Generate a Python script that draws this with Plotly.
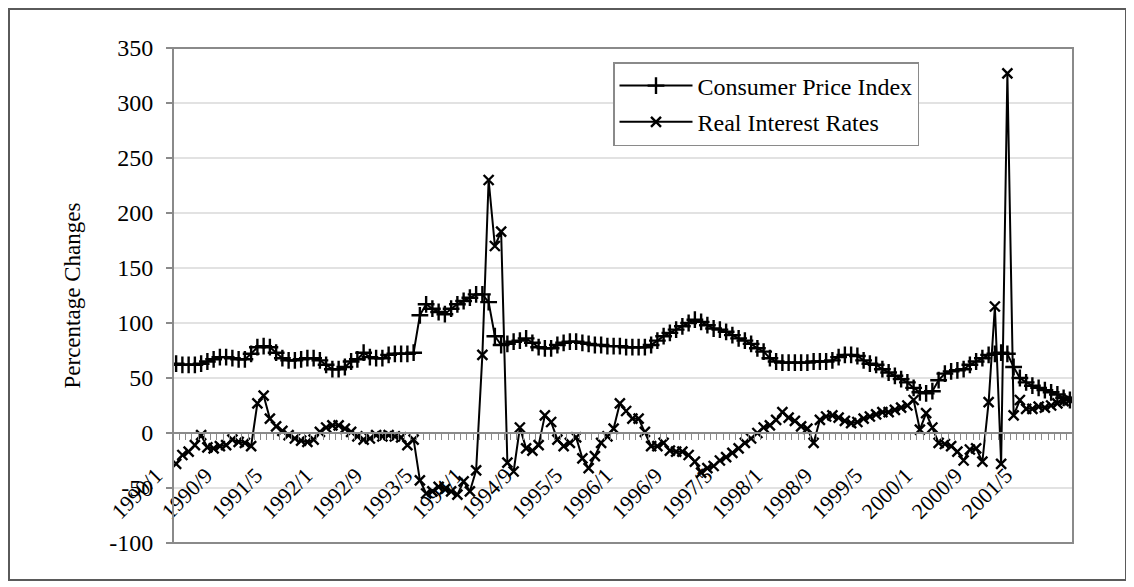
import plotly.graph_objects as go

# ---- data ----
months = [f"{y}/{m}" for y in range(1990, 2002) for m in range(1, 13)]

cpi = [63, 62, 62, 62, 63, 65, 67, 69, 69, 68,
       67, 67, 72, 78, 79, 78, 73, 68, 66, 66,
       67, 68, 68, 66, 62, 58, 58, 60, 65, 67,
       73, 69, 68, 68, 71, 72, 72, 72, 73, 107,
       117, 113, 110, 108, 113, 117, 120, 123, 126, 126,
       119, 88, 80, 81, 83, 84, 86, 82, 78, 77,
       77, 80, 82, 83, 83, 82, 81, 80, 80, 79,
       79, 79, 78, 78, 78, 78, 80, 84, 88, 91,
       94, 97, 100, 103, 101, 98, 95, 94, 92, 89,
       86, 84, 81, 77, 74, 68, 65, 64, 64, 64,
       64, 64, 65, 65, 65, 66, 69, 71, 71, 70,
       66, 63, 62, 58, 55, 52, 49, 46, 41, 37,
       36, 38, 48, 54, 56, 57, 58, 62, 65, 68,
       71, 72, 73, 72, 60, 50, 46, 43, 41, 39,
       37, 35, 32, 30]

rir = [-28, -20, -17, -11, -2, -13, -14, -12, -11, -6,
       -8, -9, -12, 27, 34, 13, 6, 2, -2, -5,
       -7, -8, -6, 1, 5, 7, 7, 4, 1, -3,
       -6, -5, -2, -3, -2, -3, -4, -11, -6, -43,
       -55, -53, -49, -51, -53, -56, -44, -53, -34, 71,
       230, 170, 183, -27, -35, 5, -14, -16, -11, 16,
       10, -6, -12, -9, -4, -23, -32, -21, -9, -3,
       4, 27, 20, 13, 13, 1, -12, -12, -9, -16,
       -17, -17, -20, -26, -36, -32, -30, -25, -22, -18,
       -14, -9, -5, 0, 5, 7, 12, 19, 14, 11,
       6, 4, -9, 12, 15, 16, 14, 11, 9, 10,
       13, 15, 17, 19, 19, 21, 23, 25, 30, 3,
       18, 5, -9, -10, -12, -17, -25, -15, -14, -26,
       28, 115, -28, 327, 16, 30, 22, 22, 24, 23,
       25, 27, 29, 30]

x_tick_labels = ["1990/1", "1990/9", "1991/5", "1992/1", "1992/9", "1993/5",
                 "1994/1", "1994/9", "1995/5", "1996/1", "1996/9", "1997/5",
                 "1998/1", "1998/9", "1999/5", "2000/1", "2000/9", "2001/5"]
y_tick_values = [-100, -50, 0, 50, 100, 150, 200, 250, 300, 350]
y_tick_labels = ["-100", "-50", "0", "50", "100", "150", "200", "250", "300", "350"]

series_names = ["Consumer Price Index", "Real Interest Rates"]

# ---- figure ----
xpos = list(range(len(months)))
tickvals = [months.index(lbl) for lbl in x_tick_labels]
SERIF = "Liberation Serif"

# page body has an 8px margin: figure is laid out in page coords minus 8
PW, PH = 1126, 579
L, T = 165, 40
PLOT_W, PLOT_H = 900, 495

fig = go.Figure()
fig.add_trace(go.Scatter(
    x=xpos, y=cpi, mode="lines+markers", name=series_names[0],
    legendgroup="a",
    line=dict(color="black", width=2),
    marker=dict(symbol="cross-thin", size=12, color="black",
                line=dict(color="black", width=2.4)),
))
fig.add_trace(go.Scatter(
    x=xpos, y=rir, mode="lines+markers", name=series_names[1],
    legendgroup="b",
    line=dict(color="black", width=2),
    marker=dict(symbol="x-thin", size=10, color="black",
                line=dict(color="black", width=2.4)),
))

ymin, ymax = y_tick_values[0], y_tick_values[-1]
zero_pos = (0 - ymin) / (ymax - ymin)

fig.update_layout(
    width=PW, height=PH,
    margin=dict(l=L, r=PW - L - PLOT_W, t=T, b=PH - T - PLOT_H),
    paper_bgcolor="white", plot_bgcolor="white",
    font=dict(family=SERIF, color="black"),
    showlegend=True,
    legend=dict(
        x=(605 - L) / PLOT_W, y=(T + PLOT_H - 54) / PLOT_H,
        xanchor="left", yanchor="top",
        bgcolor="white", bordercolor="#8a8a8a", borderwidth=1.5,
        font=dict(family=SERIF, size=24, color="black"),
        itemwidth=73, tracegroupgap=2,
    ),
    xaxis=dict(
        range=[-0.5, len(months) - 0.5],
        anchor="free", position=zero_pos,
        showgrid=False, zeroline=False,
        showline=True, linecolor="#8a8a8a", linewidth=1.5,
        tickmode="array", tickvals=tickvals, ticktext=x_tick_labels,
        ticks="", tickangle=-45,
        tickfont=dict(family=SERIF, size=22, color="black"),
        ticklabelshift=-20, ticklabelstandoff=20,
        minor=dict(ticks="outside", tick0=-0.5, dtick=1, ticklen=6,
                   tickcolor="#8a8a8a", tickwidth=1, showgrid=False),
    ),
    yaxis=dict(
        range=[ymin, ymax], domain=[0, 1],
        tickmode="array", tickvals=y_tick_values, ticktext=y_tick_labels,
        showgrid=True, gridcolor="#e2e2e2", gridwidth=1.5,
        zeroline=False, showline=False,
        ticks="outside", ticklen=6, tickcolor="#8a8a8a", tickwidth=1.5,
        ticklabelstandoff=8,
        tickfont=dict(family=SERIF, size=24, color="black"),
    ),
)

# plot-area frame and outer frame
fig.add_shape(type="rect", xref="paper", yref="paper", x0=0, x1=1, y0=0, y1=1,
              line=dict(color="#8a8a8a", width=2), layer="above")
fig.add_shape(type="rect", xref="paper", yref="paper",
              x0=(1 - L) / PLOT_W, x1=(1118 - L) / PLOT_W,
              y0=(T + PLOT_H - 572) / PLOT_H, y1=(T + PLOT_H - 1) / PLOT_H,
              line=dict(color="#5a5a5a", width=2), layer="above")

fig.add_annotation(text="Percentage Changes", textangle=-90,
                   xref="paper", yref="paper", x=(64 - L) / PLOT_W, y=0.5,
                   xanchor="center", yanchor="middle", showarrow=False,
                   font=dict(family=SERIF, size=23, color="black"))

fig.write_html("out.html")
